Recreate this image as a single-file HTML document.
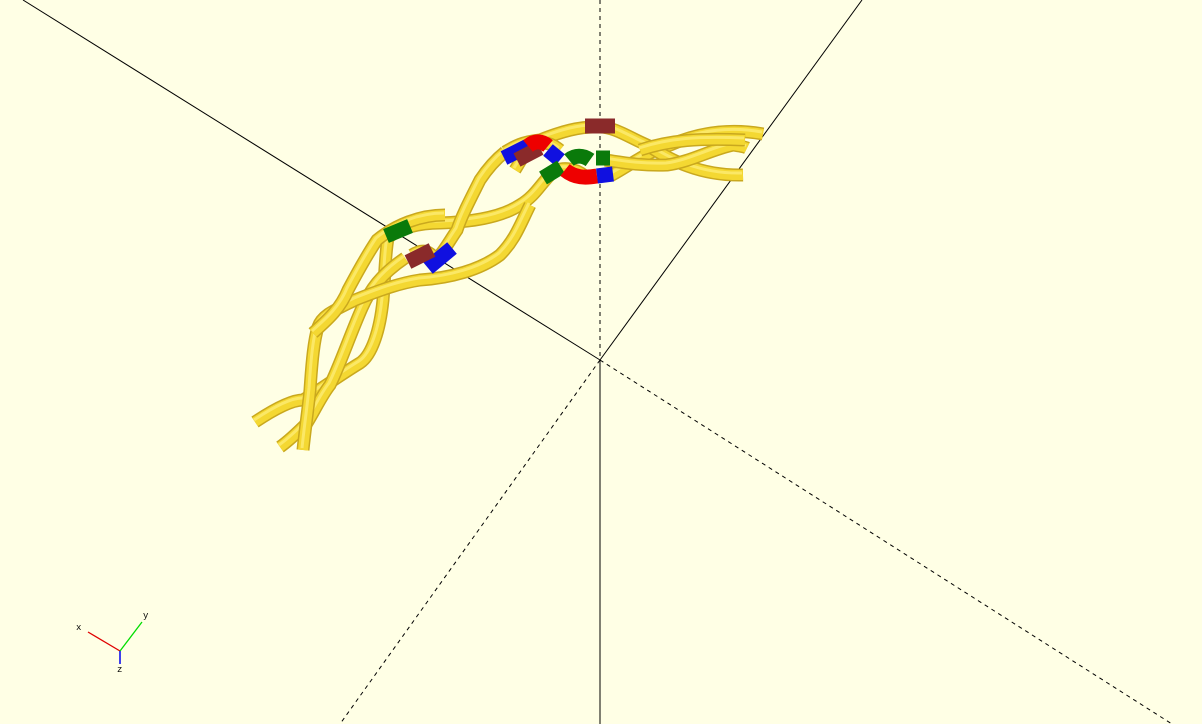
<!DOCTYPE html>
<html><head><meta charset="utf-8"><style>
html,body{margin:0;padding:0;background:#ffffe5;}
svg{display:block;}
.o{fill:none;stroke:#c9a81e;stroke-width:13;stroke-linecap:butt;}
.i{fill:none;stroke:#f4d832;stroke-width:10;stroke-linecap:butt;}
.h{fill:none;stroke:#fbe866;stroke-width:3;stroke-linecap:butt;}
</style></head><body>
<svg width="1202" height="724" viewBox="0 0 1202 724" xmlns="http://www.w3.org/2000/svg">
<rect x="0" y="0" width="1202" height="724" fill="#ffffe5"/>
<g stroke="#000" stroke-width="1" fill="none">
<line x1="23" y1="0" x2="600" y2="360"/>
<line x1="600" y1="360" x2="1172" y2="724" stroke-dasharray="4,4"/>
<line x1="600" y1="360" x2="862" y2="0"/>
<line x1="600" y1="360" x2="340" y2="724" stroke-dasharray="4,4"/>
<line x1="600" y1="360" x2="600" y2="724"/>
<line x1="600" y1="0" x2="600" y2="360" stroke-dasharray="4,4"/>
</g>
<g id="strands"></g>
<g>
<line x1="120" y1="651" x2="88" y2="632" stroke="#e00000" stroke-width="1.3"/>
<line x1="120" y1="651" x2="142" y2="622" stroke="#00dd00" stroke-width="1.3"/>
<line x1="120" y1="651" x2="120" y2="664" stroke="#0000ee" stroke-width="1.5"/>
<text x="76" y="630" font-family="Liberation Mono, monospace" font-size="9" fill="#000">x</text>
<text x="143" y="618" font-family="Liberation Mono, monospace" font-size="9" fill="#000">y</text>
<text x="117" y="672" font-family="Liberation Mono, monospace" font-size="9" fill="#000">z</text>
</g>
</svg>
<script>
const strandPaths = [
 "M255,422 C270,412 290,400 303,400 C320,390 340,375 360,363 C372,355 380,330 383,300 C385,275 385,255 388,238",
 "M388,238 C398,228 420,223 440,223 C470,222 500,218 520,205 C535,196 540,185 550,175",
 "M550,175 C560,165 575,168 585,176 C592,178 600,176 612,175 C630,165 650,150 670,145 C700,132 730,128 763,134",
 "M280,447 C290,440 300,430 307,423 C315,410 322,395 330,385 C340,365 350,335 362,308 C370,290 380,275 405,258",
 "M412,255 C420,250 428,248 436,260 C445,250 450,240 457,230 C462,215 470,200 480,180 C488,168 495,160 505,152",
 "M505,152 C515,146 522,142 540,140 C560,132 580,126 600,127 C615,127 630,138 647,145 C670,160 700,176 743,175",
 "M303,450 C305,430 308,410 310,390 C312,360 314,340 318,327 C322,315 335,310 355,300 C380,290 400,283 420,280 C450,278 480,270 500,255 C515,240 520,225 530,205",
 "M313,333 C325,322 340,310 348,290 C356,275 365,258 377,240 C395,225 420,215 445,215",
 "M515,170 C520,162 525,152 530,150 C540,142 548,140 560,150",
 "M605,160 C620,162 640,166 667,165 C690,162 710,150 733,145 C740,146 745,147 747,148",
 "M640,150 C670,140 700,138 745,140"
];
const segs = [
 ["green-band-1","#0a7a0a","M386,236 L410,226"],
 ["blue-band-1","#1010e0","M428,268 L452,248"],
 ["brown-band-1","#8a2a2a","M408,262 L432,250"],
 ["blue-band-2","#1010e0","M504,158 L528,146"],
 ["brown-band-2","#8a2a2a","M517,160 L540,148"],
 ["red-arc-top","#ee0000","M528,146 C535,140 542,141 548,146"],
 ["blue-band-3","#1010e0","M548,150 L560,160"],
 ["brown-band-3","#8a2a2a","M585,126 L615,126"],
 ["green-band-2","#0a7a0a","M543,178 L561,167"],
 ["red-arc-bottom","#ee0000","M565,170 C575,178 585,178 597,176"],
 ["blue-band-4","#1010e0","M597,176 L613,174"],
 ["green-band-3","#0a7a0a","M569,160 C575,155 583,155 590,160"],
 ["green-band-4","#0a7a0a","M596,158 L610,158"]
];
const g = document.getElementById('strands');
const NS = "http://www.w3.org/2000/svg";
strandPaths.forEach((d,i)=>{
  ['o','i','h'].forEach(c=>{
    const p=document.createElementNS(NS,'path');
    p.setAttribute('d',d);
    p.setAttribute('class',c);
    if(c==='h') p.setAttribute('transform','translate(-1,-2)');
    
    
    g.appendChild(p);
  });
});
segs.forEach(s=>{
  const p=document.createElementNS(NS,'path');
  p.setAttribute('d',s[2]);
  p.setAttribute('fill','none');
  p.setAttribute('stroke',s[1]);
  p.setAttribute('stroke-width','15');
  
  
  g.appendChild(p);
});
</script>
</body></html>
